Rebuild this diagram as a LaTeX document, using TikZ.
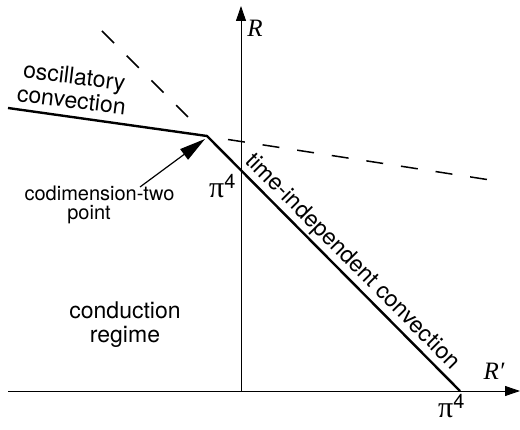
\documentclass[tikz,border=0pt]{standalone}
\usepackage{fontspec}
\setmainfont{TeX Gyre Heros}
\newfontfamily\tnr{Liberation Serif}
\usetikzlibrary{arrows.meta}
\begin{document}
\begin{tikzpicture}[x=1pt,y=-1pt,
  axis/.style={line width=0.9pt,-{Triangle[length=15pt,width=10pt]}},
  bound/.style={line width=2.4pt},
  ext/.style={line width=1.5pt,dash pattern=on 17pt off 18pt},
  pointer/.style={line width=1.2pt,-{Triangle[length=26pt,width=13pt]}},
  lbl/.style={font=\fontsize{23}{24}\selectfont,inner sep=0pt,align=center},
  small/.style={font=\fontsize{20}{20}\selectfont,inner sep=0pt,anchor=base},
  var/.style={font=\tnr\itshape\fontsize{25}{25}\selectfont,inner sep=0pt},
  pilbl/.style={inner sep=0pt,anchor=base west}]
\useasboundingbox (0,0) rectangle (520,430);
% axes
\coordinate (O) at (241,391);
\coordinate (ytop) at (241,6);
\coordinate (xl) at (8,391);
\coordinate (xr) at (520,391);
\draw[axis] (O) -- (ytop);
\draw[axis] (xl) -- (xr);
% boundaries
\coordinate (L) at (8,108);
\coordinate (P) at (207,136);
\coordinate (Q) at (460,391);
\draw[bound] (L) -- (P) -- (Q);
% dashed extensions
\coordinate (d1s) at (102,31);
\coordinate (d1e) at (188,117);
\coordinate (d2s) at (228,139.5);
\coordinate (d2e) at (487,179.5);
\draw[ext] (d1s) -- (d1e);
\draw[ext] (d2s) -- (d2e);
% codimension-two pointer
\coordinate (tail) at (140,187);
\coordinate (tip) at (205,139);
\draw[pointer] (tail) -- (tip);
% labels
\node[lbl,rotate=-7] (osc) at (73,88) {oscillatory\\convection};
\node[lbl] (cond) at (125,325) {conduction\\regime};
\node[lbl,rotate=-45.2] (tic) at (352,262) {time-independent convection};
\node[small] (cod1) at (99.5,201) {codimension-two};
\node[small] (cod2) at (89,220) {point};
\node[var] (R) at (255,28) {R};
\node[var] (Rp) at (494,371) {R′};
\node[pilbl] (piy) at (209,198) {{\tnr\fontsize{30}{30}\selectfont π}\raisebox{9pt}{\fontsize{20}{20}\selectfont 4}};
\node[pilbl] (pix) at (438,418) {{\tnr\fontsize{30}{30}\selectfont π}\raisebox{9pt}{\fontsize{20}{20}\selectfont 4}};
\end{tikzpicture}
\end{document}
